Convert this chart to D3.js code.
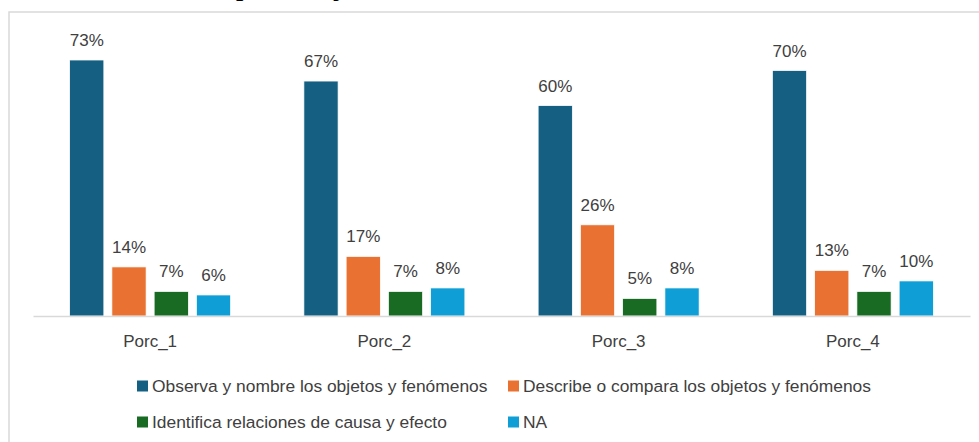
<!DOCTYPE html>
<html><head><meta charset="utf-8">
<script src="https://cdn.jsdelivr.net/npm/d3@7"></script>
<style>
html,body{margin:0;padding:0;background:#fff;}
svg{display:block;}
</style></head>
<body>
<script>
const categories = ["Porc_1", "Porc_2", "Porc_3", "Porc_4"];
const seriesNames = [
  "Observa y nombre los objetos y fenómenos",
  "Describe o compara los objetos y fenómenos",
  "Identifica relaciones de causa y efecto",
  "NA"
];
const observa = [73, 67, 60, 70];
const describe = [14, 17, 26, 13];
const identifica = [7, 7, 5, 7];
const na = [6, 8, 8, 10];
const colors = ["#156082", "#E97132", "#196B24", "#0F9ED5"];
const titleLeft = "Resultados de la dimensión Ciencia,";
const titleRight = "porcentaje de estudiantes en cada indicador";

const seriesValues = [observa, describe, identifica, na];
const data = categories.map((c, i) => ({
  cat: c,
  vals: seriesNames.map((s, j) => ({ s, j, v: seriesValues[j][i] }))
}));

const W = 979, H = 442;
const svg = d3.select("body").append("svg").attr("width", W).attr("height", H);
const font = "'Liberation Sans', Arial, sans-serif";

// title (mostly cut off at top, as in the reference)
svg.append("text").attr("x", 234).attr("y", -4).attr("text-anchor", "end")
  .attr("font-family", "'Liberation Serif', 'Times New Roman', serif")
  .attr("font-weight", "bold").attr("font-size", 26).attr("fill", "#000").text(titleLeft);
svg.append("text").attr("x", 236).attr("y", -4).attr("text-anchor", "start")
  .attr("font-family", "'Liberation Serif', 'Times New Roman', serif")
  .attr("font-weight", "bold").attr("font-size", 26).attr("fill", "#000").text(titleRight);

// frame
svg.append("rect").attr("x", 9).attr("y", 12).attr("width", 1100).attr("height", 600)
  .attr("fill", "none").attr("stroke", "#d9d9d9").attr("stroke-width", 1.5);

const x0 = d3.scaleBand().domain(categories).range([33, 970]).padding(0);
const groupW = 161;
const x1 = d3.scaleBand().domain(d3.range(seriesNames.length)).range([0, groupW]).paddingInner(0.19).paddingOuter(0);
const y = d3.scaleLinear().domain([0, 73]).range([316, 60]);

const g = svg.append("g");
const groups = g.selectAll("g.grp").data(data).join("g")
  .attr("transform", d => `translate(${x0(d.cat) + x0.bandwidth() / 2 - groupW / 2},0)`);

groups.selectAll("rect").data(d => d.vals).join("rect")
  .attr("x", d => x1(d.j))
  .attr("y", d => y(d.v))
  .attr("width", x1.bandwidth())
  .attr("height", d => y(0) - y(d.v))
  .attr("fill", d => colors[d.j])
  .attr("stroke", "#ffffff").attr("stroke-width", 0.75);

groups.selectAll("text").data(d => d.vals).join("text")
  .attr("x", d => x1(d.j) + x1.bandwidth() / 2)
  .attr("y", d => y(d.v) - 14)
  .attr("text-anchor", "middle")
  .attr("font-family", font).attr("font-size", 17).attr("fill", "#404040")
  .text(d => d.v + "%");

// axis
const axis = svg.append("g").attr("transform", "translate(0,316)")
  .call(d3.axisBottom(x0).tickSize(0).tickPadding(0));
axis.select(".domain").attr("stroke", "#d9d9d9").attr("stroke-width", 1.5);
axis.selectAll("text").attr("font-family", font).attr("font-size", 17)
  .attr("fill", "#404040").attr("dy", null).attr("y", 31);

// legend
const legendPos = [[137, 386], [508, 386], [137, 422], [508, 422]];
const lg = svg.append("g").selectAll("g").data(seriesNames).join("g")
  .attr("transform", (d, i) => `translate(${legendPos[i][0]},${legendPos[i][1]})`);
lg.append("rect").attr("x", 0).attr("y", -5.5).attr("width", 11).attr("height", 11)
  .attr("fill", (d, i) => colors[i]);
lg.append("text").attr("x", 15).attr("y", 6).attr("font-family", font).attr("font-size", 17.4)
  .attr("fill", "#404040").text(d => d);
</script>
</body></html>
